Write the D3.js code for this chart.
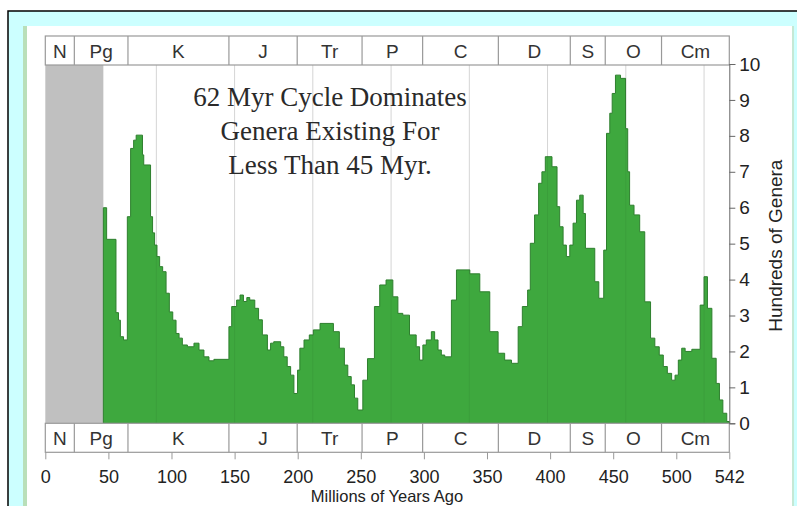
<!DOCTYPE html>
<html>
<head>
<meta charset="utf-8">
<script src="https://cdn.jsdelivr.net/npm/d3@7"></script>
<style>
  body { margin: 0; background: #fff; }
  svg { display: block; }
  .tick text { font-family: "Liberation Sans", Arial, sans-serif; fill: #222; }
</style>
</head>
<body>
<div id="chart"></div>
<script>
const periodNames = ['N', 'Pg', 'K', 'J', 'Tr', 'P', 'C', 'D', 'S', 'O', 'Cm'];
const periodBounds = [0, 23, 65.5, 145.5, 199.6, 251, 299, 359, 416, 443.7, 488.3, 542];

const cycleLines = [88, 150, 212, 274, 336, 398, 460, 522];
const excludedUntil = 46;

const xTicks = [0, 50, 100, 150, 200, 250, 300, 350, 400, 450, 500, 542];

const titleLines = ['62 Myr Cycle Dominates', 'Genera Existing For', 'Less Than 45 Myr.'];

// step starts (Myr ago) and genera (hundreds)
const ages = [
  46, 48.6, 56, 58, 59.5, 62, 65, 67.6, 70, 72, 77, 78, 83.4, 85, 86.6, 88.5,
  90.6, 93, 95.7, 98.3, 101, 103.6, 106, 108.6, 112.6, 117.8, 121.8, 125.7, 129.7, 133.6,
  145.5, 147.7, 151.6, 154.3, 157, 159.7, 162, 166, 169, 172, 176, 178.5, 181, 186.5,
  189, 191.7, 194.4, 197, 199.9, 201.7, 205, 209.2, 212.4, 217.7, 228.3, 233, 237,
  239.7, 242.4, 245, 247.6, 251.6, 255.3, 260.8, 265, 270, 275.4, 279.4, 283.3, 288.6,
  293.9, 296.6, 299.2, 301.9, 305.9, 308.5, 311.2, 313.8, 316.5, 321.8, 325.8, 336.4,
  344.3, 352.2, 358.8, 364, 369.4, 374.7, 378, 382.2, 384.3, 387.7, 390.9, 393.5, 396.2,
  401.5, 405.5, 407.6, 410.3, 412.9, 415.6, 418.2, 420.9, 423.5, 426.2, 428, 435.4,
  438.6, 442.5, 444.7, 447.3, 449.2, 451.8, 455.8, 459.8, 461.5, 463, 466.5, 471, 475,
  479.6, 483, 486.5, 489.7, 492.9, 496.3, 499, 501.6, 504.3, 507, 512.3, 518.9, 522,
  524.7, 528.2, 531.6, 534.2, 536.9, 540, 542
];
const genera = [
  6.0, 5.12, 3.08, 2.87, 2.41, 2.32, 5.75, 7.65, 7.88, 8.02, 7.47, 7.19, 5.75, 5.3, 4.96, 4.64,
  4.36, 4.22, 3.62, 3.1, 2.87, 2.5, 2.37, 2.18, 2.13, 2.23, 2.04, 1.85, 1.74, 1.78,
  2.69, 3.25, 3.43, 3.57, 3.39, 3.5, 3.43, 3.2, 2.88, 2.46, 2.04, 2.23, 2.27, 2.13,
  1.85, 1.58, 1.34, 0.83, 1.48, 2.09, 2.32, 2.46, 2.6, 2.78, 2.55, 2.09, 1.62,
  1.3, 1.07, 0.7, 0.37, 1.2, 1.8, 3.25, 3.85, 3.99, 3.52, 3.06, 3.01, 2.46,
  2.13, 1.76, 2.18, 2.32, 2.55, 2.32, 2.04, 1.9, 1.85, 3.43, 4.27, 4.16,
  3.66, 2.55, 1.95, 1.76, 1.67, 2.69, 3.25, 3.71, 5.01, 5.8, 6.68, 7.0, 7.42,
  7.14, 6.03, 5.47, 4.96, 4.64, 4.96, 5.57, 6.21, 6.35, 5.84, 4.87, 3.94,
  3.48, 4.82, 8.07, 8.63, 9.18, 9.69, 9.6, 8.2, 7.0, 6.07, 5.8, 5.33, 3.38,
  2.37, 2.13, 1.9, 1.58, 1.39, 1.2, 1.34, 1.76, 2.09, 2.0, 2.06, 3.29, 4.08,
  3.2, 1.81, 1.11, 0.65, 0.28, 0.05, 0.05
];

const WIDTH = 797;
const HEIGHT = 506;
const plotLeft = 45.3;
const plotRight = 729.3;
const plotTop = 64;
const plotBottom = 423.3;
const barHeight = 29;
const sans = '"Liberation Sans", Arial, sans-serif';

const svg = d3.select('#chart').append('svg').attr('width', WIDTH).attr('height', HEIGHT);

// backdrop frame
svg.append('rect').attr('x', 8).attr('y', 11).attr('width', WIDTH).attr('height', HEIGHT)
  .attr('fill', '#ccffff').attr('stroke', '#000').attr('stroke-width', 1.5);
svg.append('rect').attr('x', 23).attr('y', 26).attr('width', 771).attr('height', HEIGHT)
  .attr('fill', '#fff');
svg.append('rect').attr('x', 23).attr('y', 26).attr('width', 4).attr('height', HEIGHT)
  .attr('fill', '#b9dfb9');
svg.append('rect').attr('x', 792).attr('y', 26).attr('width', 2).attr('height', HEIGHT)
  .attr('fill', '#c5e8d5');

const x = d3.scaleLinear().domain([0, 542]).range([plotLeft, plotRight]);
const y = d3.scaleLinear().domain([0, 10]).range([plotBottom, plotTop]);

svg.append('rect')
  .attr('x', x(0)).attr('y', plotTop)
  .attr('width', x(excludedUntil) - x(0)).attr('height', plotBottom - plotTop)
  .attr('fill', '#c0c0c0');

svg.append('g')
  .selectAll('line')
  .data(cycleLines)
  .join('line')
  .attr('x1', (d) => x(d)).attr('x2', (d) => x(d))
  .attr('y1', plotTop).attr('y2', plotBottom)
  .attr('stroke', '#e2e2e2');

const series = ages.map((age, i) => ({ age, value: genera[i] }));

const area = d3.area()
  .curve(d3.curveStepAfter)
  .x((d) => x(d.age))
  .y0(y(0))
  .y1((d) => y(d.value));

svg.append('path')
  .datum(series)
  .attr('d', area)
  .attr('fill', '#3ea83e')
  .attr('stroke', '#2e7f2e')
  .attr('stroke-width', 1);

svg.append('g')
  .selectAll('line')
  .data(cycleLines)
  .join('line')
  .attr('x1', (d) => x(d)).attr('x2', (d) => x(d))
  .attr('y1', plotTop).attr('y2', plotBottom)
  .attr('stroke', '#000').attr('stroke-opacity', 0.06);

// period bars
const periods = periodNames.map((name, i) => ({
  name, start: periodBounds[i], end: periodBounds[i + 1],
}));

const drawPeriodBar = (top) => {
  const bar = svg.append('g').attr('transform', `translate(0, ${top})`);
  bar.append('rect')
    .attr('x', x(0)).attr('width', x(542) - x(0)).attr('height', barHeight)
    .attr('fill', '#fff').attr('stroke', '#999').attr('stroke-width', 1.2);
  bar.selectAll('line')
    .data(periodBounds.slice(1, -1))
    .join('line')
    .attr('x1', (d) => x(d)).attr('x2', (d) => x(d))
    .attr('y1', 0).attr('y2', barHeight)
    .attr('stroke', '#999').attr('stroke-width', 1.2);
  bar.selectAll('text')
    .data(periods)
    .join('text')
    .attr('x', (d) => x((d.start + d.end) / 2))
    .attr('y', barHeight / 2 + 7)
    .attr('text-anchor', 'middle')
    .attr('font-family', sans)
    .attr('font-size', 19)
    .attr('fill', '#333')
    .text((d) => d.name);
};

drawPeriodBar(plotTop - barHeight + 1);
drawPeriodBar(plotBottom);

// bottom axis
const xAxis = d3.axisBottom(x).tickValues(xTicks).tickSize(7).tickPadding(11);
const xAxisG = svg.append('g')
  .attr('transform', `translate(0, ${plotBottom + barHeight})`)
  .call(xAxis);
xAxisG.select('.domain').remove();
xAxisG.selectAll('.tick line').attr('stroke', '#999');
xAxisG.selectAll('.tick text').attr('font-size', 18);

svg.append('text')
  .attr('x', 387).attr('y', 502)
  .attr('text-anchor', 'middle')
  .attr('font-family', sans)
  .attr('font-size', 16.5)
  .attr('fill', '#222')
  .text('Millions of Years Ago');

// right axis
const yAxis = d3.axisRight(y).ticks(10).tickSize(6).tickPadding(4);
const yAxisG = svg.append('g')
  .attr('transform', `translate(${plotRight}, 0)`)
  .call(yAxis);
yAxisG.select('.domain').attr('stroke', '#666');
yAxisG.selectAll('.tick line').attr('stroke', '#666');
yAxisG.selectAll('.tick text').attr('font-size', 19);

svg.append('text')
  .attr('transform', `translate(782, ${(plotTop + plotBottom) / 2 + 2}) rotate(-90)`)
  .attr('text-anchor', 'middle')
  .attr('font-family', sans)
  .attr('font-size', 19)
  .attr('fill', '#222')
  .text('Hundreds of Genera');

// title
svg.append('g')
  .selectAll('text')
  .data(titleLines)
  .join('text')
  .attr('x', 330)
  .attr('y', (_, i) => 106 + i * 34)
  .attr('text-anchor', 'middle')
  .attr('font-family', '"Liberation Serif", "Times New Roman", serif')
  .attr('font-size', 27)
  .attr('fill', '#2a2a2a')
  .text((d) => d);
</script>
</body>
</html>
